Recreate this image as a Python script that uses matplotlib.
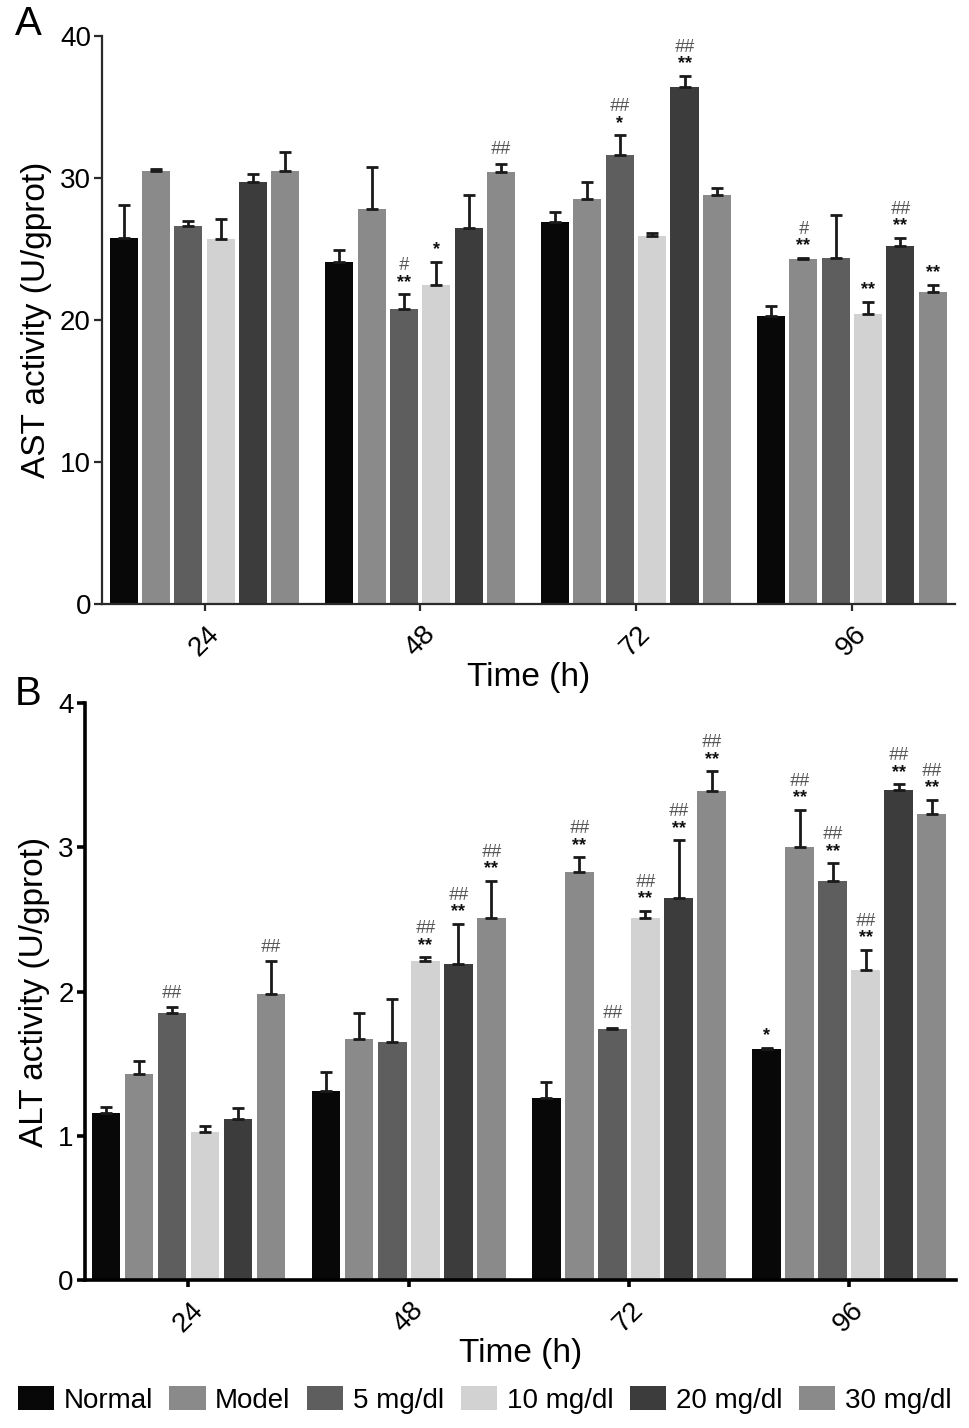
import matplotlib
matplotlib.use("Agg")
import matplotlib.pyplot as plt
import numpy as np

plt.rcParams['font.family'] = ['Liberation Sans', 'DejaVu Sans']

hours = ['24', '48', '72', '96']
groups = ['Normal', 'Model', '5 mg/dl', '10 mg/dl', '20 mg/dl', '30 mg/dl']
colors = ['#080808', '#8a8a8a', '#5e5e5e', '#d2d2d2', '#3c3c3c', '#8a8a8a']

# AST (rows = groups, columns = hours)
ast_mean = [
    [25.8, 24.1, 26.9, 20.3],
    [30.5, 27.8, 28.5, 24.3],
    [26.6, 20.8, 31.6, 24.4],
    [25.7, 22.5, 25.9, 20.4],
    [29.7, 26.5, 36.4, 25.2],
    [30.5, 30.4, 28.8, 22.0],
]
ast_err = [
    [2.3, 0.8, 0.7, 0.7],
    [0.15, 3.0, 1.2, 0.1],
    [0.4, 1.0, 1.4, 3.0],
    [1.4, 1.6, 0.2, 0.9],
    [0.6, 2.3, 0.8, 0.6],
    [1.3, 0.6, 0.5, 0.5],
]
ast_star = [
    ['', '', '', ''],
    ['', '', '', '**'],
    ['', '**', '*', ''],
    ['', '*', '', '**'],
    ['', '', '**', '**'],
    ['', '', '', '**'],
]
ast_hash = [
    ['', '', '', ''],
    ['', '', '', '#'],
    ['', '#', '##', ''],
    ['', '', '', ''],
    ['', '', '##', '##'],
    ['', '##', '', ''],
]

# ALT
alt_mean = [
    [1.16, 1.31, 1.26, 1.60],
    [1.43, 1.67, 2.83, 3.00],
    [1.85, 1.65, 1.74, 2.77],
    [1.03, 2.21, 2.51, 2.15],
    [1.12, 2.19, 2.65, 3.40],
    [1.98, 2.51, 3.39, 3.23],
]
alt_err = [
    [0.04, 0.13, 0.11, 0.01],
    [0.09, 0.18, 0.10, 0.26],
    [0.04, 0.30, 0.01, 0.12],
    [0.04, 0.03, 0.05, 0.14],
    [0.07, 0.28, 0.40, 0.04],
    [0.23, 0.26, 0.14, 0.10],
]
alt_star = [
    ['', '', '', '*'],
    ['', '', '**', '**'],
    ['', '', '', '**'],
    ['', '**', '**', '**'],
    ['', '**', '**', '**'],
    ['', '**', '**', '**'],
]
alt_hash = [
    ['', '', '', ''],
    ['', '', '##', '##'],
    ['##', '', '##', '##'],
    ['', '##', '##', '##'],
    ['', '##', '##', '##'],
    ['##', '##', '##', '##'],
]


def bar_panel(ax, means, errs, stars, hashes, ymax, ylabel, lw, spine_color, xlim):
    x = np.arange(len(hours))
    slot = 0.15
    handles = []
    for i, g in enumerate(groups):
        xs = x + (i - 2.5) * slot
        m = np.array(means[i])
        e = np.array(errs[i])
        b = ax.bar(xs, m, width=0.13, color=colors[i], label=g, zorder=2)
        handles.append(b)
        ax.errorbar(xs, m, yerr=[np.zeros_like(e), e], fmt='none', ecolor='#1a1a1a',
                    elinewidth=2, capsize=4.5, capthick=2, zorder=3)
        for j in range(len(hours)):
            top = m[j] + e[j]
            if stars[i][j]:
                ax.annotate(stars[i][j], xy=(xs[j], top), xytext=(0, 8.5),
                            textcoords='offset points', ha='center', va='center',
                            fontsize=13, fontweight='bold', color='#111111')
                hoff = 20.5
            else:
                hoff = 10
            if hashes[i][j]:
                ax.annotate(hashes[i][j], xy=(xs[j], top), xytext=(0, hoff),
                            textcoords='offset points', ha='center', va='center',
                            fontsize=13, fontstyle='italic', color='#555555')

    ax.set_xlim(*xlim)
    ax.set_ylim(0, ymax)
    ax.set_xticks(x)
    ax.set_xticklabels(hours, rotation=45, ha='center', fontsize=20)
    ax.tick_params(axis='x', length=5, width=lw, pad=7, color=spine_color)
    ax.tick_params(axis='y', length=6, width=lw, pad=2, labelsize=20, color=spine_color)
    ax.spines['top'].set_visible(False)
    ax.spines['right'].set_visible(False)
    for s in ['left', 'bottom']:
        ax.spines[s].set_linewidth(lw)
        ax.spines[s].set_color(spine_color)
    ax.set_xlabel('Time (h)', fontsize=24, labelpad=1)
    ax.set_ylabel(ylabel, fontsize=24, labelpad=6)
    return handles


fig = plt.figure(figsize=(9.69, 14.28), dpi=100)

ax_a = fig.add_axes([0.1053, 0.577, 0.8803, 0.3978])
bar_panel(ax_a, ast_mean, ast_err, ast_star, ast_hash, 40,
          'AST activity (U/gprot)', 1.6, '#2a2a2a', (-0.475, 3.479))
ax_a.set_yticks([0, 10, 20, 30, 40])

ax_b = fig.add_axes([0.0877, 0.1036, 0.8989, 0.404])
handles = bar_panel(ax_b, alt_mean, alt_err, alt_star, alt_hash, 4,
                    'ALT activity (U/gprot)', 2.6, '#000000', (-0.47, 3.485))
ax_b.set_yticks([0, 1, 2, 3, 4])

fig.text(15 / 969, 1 - 5 / 1428, 'A', fontsize=29, va='top', ha='left')
fig.text(15 / 969, 1 - 675 / 1428, 'B', fontsize=29, va='top', ha='left')

fig.legend(handles, groups, ncol=6, loc='center', bbox_to_anchor=(0.5, 1 - 1400 / 1428),
           frameon=False, fontsize=20, handlelength=1.3, handleheight=0.95,
           handletextpad=0.35, columnspacing=0.6, borderpad=0.1)

fig.savefig('out.png', dpi=100)
